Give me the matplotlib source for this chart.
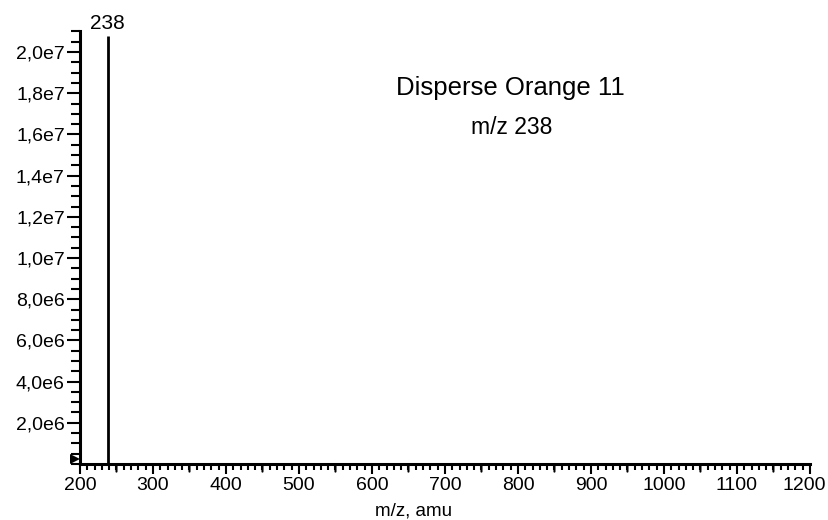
import matplotlib
matplotlib.use("Agg")
import matplotlib.pyplot as plt
import matplotlib.transforms as mtransforms
from matplotlib.ticker import MultipleLocator, FixedLocator, FuncFormatter

plt.rcParams['font.family'] = ['Liberation Sans', 'DejaVu Sans']

# Data
mz = [238]
intensity = [2.08e7]
peak_labels = ["238"]
title = "Disperse Orange 11"
subtitle = "m/z 238"
xlabel = "m/z, amu"
xticks = [200, 300, 400, 500, 600, 700, 800, 900, 1000, 1100, 1200]
yticks = [2e6, 4e6, 6e6, 8e6, 1e7, 1.2e7, 1.4e7, 1.6e7, 1.8e7, 2e7]

fig = plt.figure(figsize=(8.29, 5.20), dpi=100)
ax = fig.add_axes([0.0965, 0.1077, 0.977 - 0.0965, 0.9396 - 0.1077])

ax.vlines(mz, 0, intensity, color='black', linewidth=2.0)
for m, i, lab in zip(mz, intensity, peak_labels):
    ax.annotate(lab, (m, i), xytext=(0, 2), textcoords='offset points',
                ha='center', va='bottom', fontsize=15, annotation_clip=False)

ax.set_xlim(200, 1200)
ax.set_ylim(0, 2.1e7)

for s in ['top', 'right']:
    ax.spines[s].set_visible(False)
for s in ['left', 'bottom']:
    ax.spines[s].set_linewidth(2.2)

# x ticks
ax.xaxis.set_major_locator(FixedLocator(xticks))
ax.xaxis.set_minor_locator(MultipleLocator(10))
ax.tick_params(axis='x', which='major', direction='out', length=7, width=1.5,
               labelsize=14, pad=2.5)
ax.tick_params(axis='x', which='minor', direction='out', length=4, width=1.5)
ax.set_xlabel(xlabel, fontsize=13.5, labelpad=0)
ax.xaxis.set_label_coords((414 - 80) / 730, -0.088)

# y ticks
ax.yaxis.set_major_locator(FixedLocator(yticks))
ax.yaxis.set_minor_locator(MultipleLocator(5e5))
ax.yaxis.set_major_formatter(FuncFormatter(
    lambda v, p: ("%.1e" % v).replace('.', ',').replace('e+0', 'e').replace('e+', 'e')))
ax.tick_params(axis='y', which='major', direction='out', length=9.4, width=1.5,
               labelsize=14, pad=1.5)
ax.tick_params(axis='y', which='minor', direction='out', length=6.5, width=1.5)

# medium x ticks at the 50s
trans = mtransforms.blended_transform_factory(ax.transData, ax.transAxes)
for xm in range(250, 1200, 100):
    ax.annotate('', xy=(xm, 0), xycoords=trans, xytext=(0, -5.5),
                textcoords='offset points',
                arrowprops=dict(arrowstyle='-', lw=1.5, color='black',
                                shrinkA=0, shrinkB=0), annotation_clip=False)

# small triangle marker at left of y-axis
ax.plot([-4.5 / 730], [(464 - 459) / 433], marker='>', color='black',
        markersize=6.5, markeredgewidth=0, linestyle='none',
        transform=ax.transAxes, clip_on=False)

fig.text(510 / 829, 1 - 88 / 520, title, fontsize=18.5, ha='center', va='center')
fig.text(512 / 829, 1 - 127 / 520, subtitle, fontsize=16.5, ha='center', va='center')

# nudge the last x tick label left so it stays inside the figure
fig.canvas.draw()
last_tick = ax.xaxis.get_major_ticks()[-1]
last_tick.label1.set_transform(last_tick.label1.get_transform() +
                               mtransforms.ScaledTranslation(-6 / 100, 0, fig.dpi_scale_trans))

fig.savefig('out.png', dpi=100)
